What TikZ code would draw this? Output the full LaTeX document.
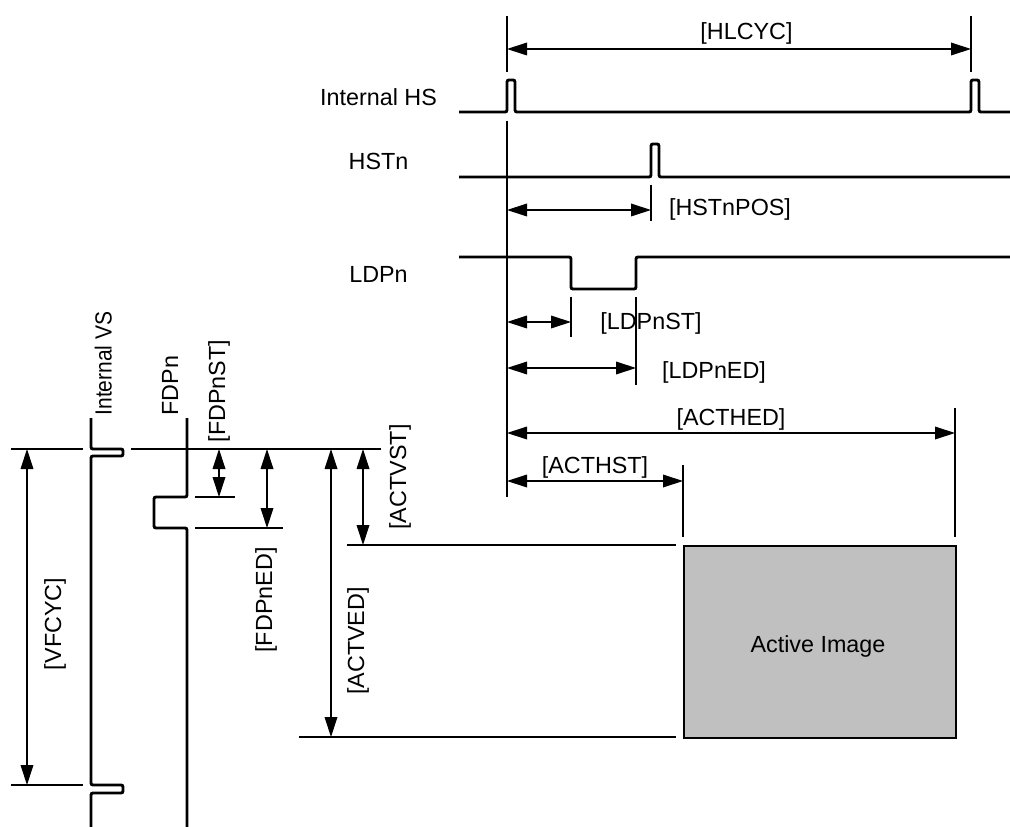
\documentclass[tikz,border=0pt]{standalone}
\usepackage{fontspec}
\setmainfont{Liberation Sans}
\usetikzlibrary{arrows.meta}
\begin{document}
\begin{tikzpicture}[x=0.75pt,y=-0.75pt,
  font=\fontsize{17.5pt}{20pt}\selectfont,
  sig/.style={line width=2.2pt, rounded corners=1.5pt},
  thin/.style={line width=0.9pt},
  dim/.style={line width=0.9pt, {Triangle[length=15pt,width=9.5pt]}-{Triangle[length=15pt,width=9.5pt]}},
  lbl/.style={inner sep=0pt, anchor=center},
  rlbl/.style={inner sep=0pt, anchor=center, rotate=90}]
\useasboundingbox (0,0) rectangle (1010,827);

% ---------- coordinates ----------
\coordinate (hl) at (507,49);  \coordinate (hr) at (971,49);
\coordinate (pA) at (507,210); \coordinate (pB) at (651,210);
\coordinate (sA) at (507,322); \coordinate (sB) at (571,322);
\coordinate (eA) at (507,368); \coordinate (eB) at (636,368);
\coordinate (dA) at (507,433); \coordinate (dB) at (955,433);
\coordinate (tA) at (507,481); \coordinate (tB) at (683,481);
\coordinate (vcT) at (27,449);  \coordinate (vcB) at (27,785);
\coordinate (fsT) at (219,449); \coordinate (fsB) at (219,497);
\coordinate (feT) at (267,449); \coordinate (feB) at (267,528);
\coordinate (aeT) at (331,449); \coordinate (aeB) at (331,737);
\coordinate (asT) at (363,449); \coordinate (asB) at (363,545);

% ---------- extension lines (horizontal timing) ----------
\draw[thin] (507,16) -- (507,72);
\draw[thin] (971,16) -- (971,72);
\draw[thin] (507,121) -- (507,497);
\draw[thin] (651,185) -- (651,221);
\draw[thin] (571,297) -- (571,337);
\draw[thin] (636,297) -- (636,385);
\draw[thin] (955,408) -- (955,537);
\draw[thin] (683,465) -- (683,537);

% ---------- signals (horizontal) ----------
\draw[sig] (459,112) -- (507,112) -- (507,80) -- (515,80) -- (515,112) -- (971,112) -- (971,80) -- (979,80) -- (979,112) -- (1010,112);
\draw[sig] (459,177) -- (651,177) -- (651,144) -- (659,144) -- (659,177) -- (1010,177);
\draw[sig] (459,257) -- (571,257) -- (571,289) -- (636,289) -- (636,257) -- (1010,257);

% ---------- dimension arrows (horizontal) ----------
\draw[dim] (hl) -- (hr);
\draw[dim] (pA) -- (pB);
\draw[dim] (sA) -- (sB);
\draw[dim] (eA) -- (eB);
\draw[dim] (dA) -- (dB);
\draw[dim] (tA) -- (tB);

% ---------- labels (horizontal) ----------
\node[inner sep=0pt, anchor=base] (lhs) at (378.5,106) {Internal HS};
\node[inner sep=0pt, anchor=base] (lhst) at (378.5,170) {HSTn};
\node[inner sep=0pt, anchor=base] (lldp) at (378.5,282) {LDPn};
\node[lbl] (lhlcyc) at (746.5,33) {[HLCYC]};
\node[lbl] (lpos) at (730,209) {[HSTnPOS]};
\node[lbl] (lldst) at (651,323) {[LDPnST]};
\node[lbl] (llded) at (714,372) {[LDPnED]};
\node[lbl] (lacthed) at (731,419) {[ACTHED]};
\node[lbl] (lacthst) at (595,467) {[ACTHST]};

% ---------- active image ----------
\node[draw, line width=1.4pt, fill={rgb,255:red,192;green,192;blue,192}, minimum width=272*0.75pt, minimum height=192*0.75pt, inner sep=0pt, anchor=north west] (img) at (683,545) {};
\node[inner sep=0pt, anchor=base] (limg) at (818,652) {Active Image};

% ---------- vertical side ----------
\draw[thin] (11,449) -- (83,449);
\draw[thin] (131,449) -- (381,449);
\draw[thin] (11,785) -- (83,785);
\draw[thin] (195,497) -- (235,497);
\draw[thin] (195,528) -- (283,528);
\draw[thin] (347,545) -- (676,545);
\draw[thin] (299,737) -- (676,737);

\draw[sig] (91,418) -- (91,449) -- (123,449) -- (123,456) -- (91,456) -- (91,785) -- (123,785) -- (123,793) -- (91,793) -- (91,827);
\draw[sig] (187,418) -- (187,497) -- (154,497) -- (154,528) -- (187,528) -- (187,827);

\draw[dim] (vcT) -- (vcB);
\draw[dim] (fsT) -- (fsB);
\draw[dim] (feT) -- (feB);
\draw[dim] (aeT) -- (aeB);
\draw[dim] (asT) -- (asB);

\node[inner sep=0pt, anchor=base, rotate=90] (lvs) at (111.7,363.5) {\scalebox{0.9}[1]{Internal VS}};
\node[inner sep=0pt, anchor=base, rotate=90] (lfdp) at (178,385.5) {FDPn};
\node[rlbl] (lfdpst) at (219,391) {[FDPnST]};
\node[rlbl] (lactvst) at (400,477) {[ACTVST]};
\node[rlbl] (lvfcyc) at (55,624) {[VFCYC]};
\node[rlbl] (lfdped) at (266,600) {[FDPnED]};
\node[rlbl] (lactved) at (358,641) {[ACTVED]};
\end{tikzpicture}
\end{document}
